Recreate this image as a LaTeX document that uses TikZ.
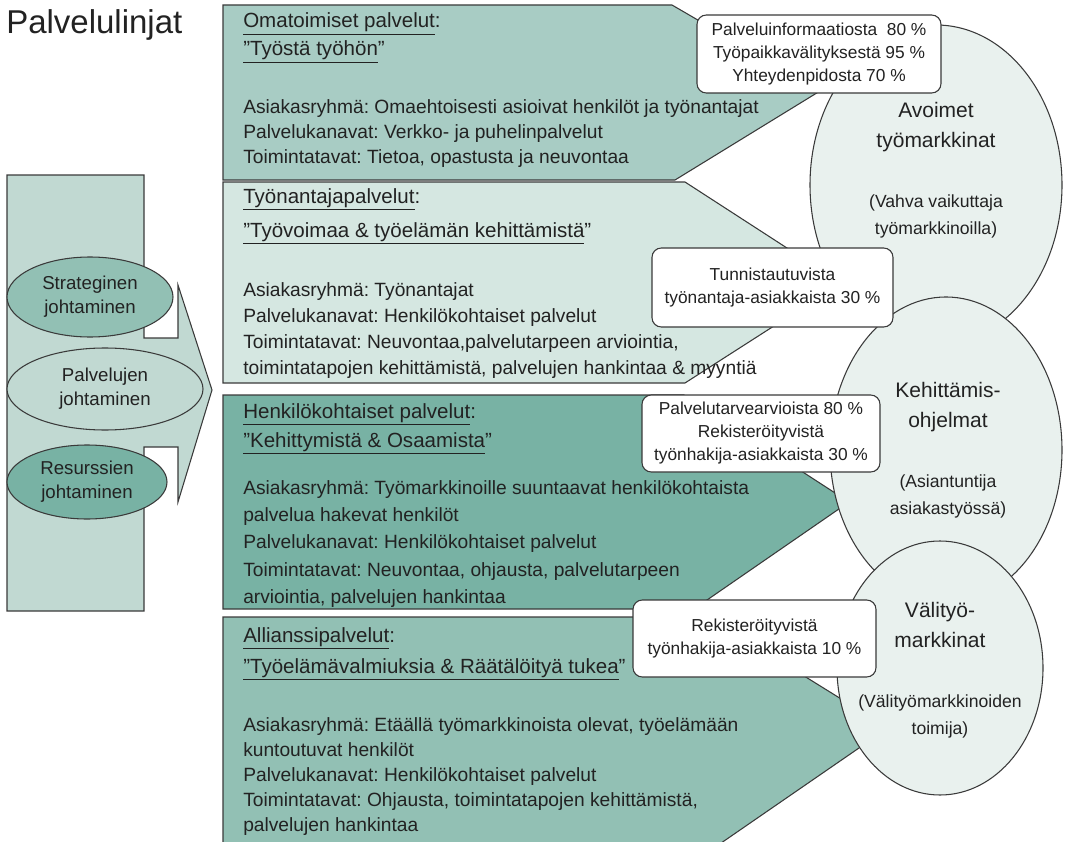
\documentclass[tikz,border=0pt]{standalone}
\usepackage{fontspec}
\setmainfont{Liberation Sans}
\usetikzlibrary{shapes.geometric}
\definecolor{leftfill}{HTML}{C1D9D2}
\definecolor{midfill}{HTML}{92C0B4}
\definecolor{darkfill}{HTML}{78B2A4}
\definecolor{bandone}{HTML}{A8CCC4}
\definecolor{bandtwo}{HTML}{D5E7E1}
\definecolor{ovalfill}{HTML}{E9F1EE}
\definecolor{edge}{HTML}{3A3A3A}
\definecolor{ink}{HTML}{222222}
\frenchspacing
\begin{document}
\begin{tikzpicture}[x=0.75pt,y=-0.75pt,
  outline/.style={draw=edge, line width=0.8pt},
  bodytext/.style={anchor=base west, inner sep=0pt, text=ink, font=\fontsize{14.4}{17}\selectfont},
  headtext/.style={anchor=base west, inner sep=0pt, text=ink, font=\fontsize{15.4}{18}\selectfont},
  callout/.style={outline, fill=white, rounded corners=7pt, align=center, inner sep=0pt, text=ink, font=\fontsize{13}{17.25}\selectfont},
  leftoval/.style={ellipse, outline, align=center, inner sep=0pt, text=ink, font=\fontsize{14}{18}\selectfont},
  rightoval/.style={ellipse, outline, fill=ovalfill, inner sep=0pt},
  ovaltitle/.style={align=center, inner sep=0pt, text=ink, font=\fontsize{15.75}{22.5}\selectfont},
  ovalnote/.style={align=center, inner sep=0pt, text=ink, font=\fontsize{13.2}{20.25}\selectfont}
]
\useasboundingbox (0,0) rectangle (1065,842);
\clip (0,0) rectangle (1065,842);

% title
\node[anchor=base west, inner sep=0pt, text=ink, font=\fontsize{24.75}{28}\selectfont] (title) at (6,34) {Palvelulinjat};

% left arrow
\draw[outline, fill=leftfill] (7,175) -- (144,175) -- (144,338) -- (178,338) -- (178,285) -- (212,390) -- (178,502) -- (178,447) -- (144,447) -- (144,611) -- (7,611) -- cycle;
\node[leftoval, fill=midfill, minimum width={166*0.75pt}, minimum height={80*0.75pt}] (strat) at (90,297) {Strateginen\\johtaminen};
\node[leftoval, fill=leftfill, minimum width={196*0.75pt}, minimum height={82*0.75pt}] (palv) at (105,389) {Palvelujen\\johtaminen};
\node[leftoval, fill=darkfill, minimum width={160*0.75pt}, minimum height={74*0.75pt}] (resu) at (87,482) {Resurssien\\johtaminen};

% bands
\draw[outline, fill=bandone] (223,5) -- (672,5) -- (820,91) -- (675,180) -- (223,180) -- cycle;
\draw[outline, fill=bandtwo] (223,182) -- (685,182) -- (841,283) -- (685,383) -- (223,383) -- cycle;
\draw[outline, fill=darkfill] (223,395) -- (684,395) -- (849,502) -- (694,609) -- (223,609) -- cycle;
\draw[outline, fill=midfill] (223,617) -- (709,617) -- (888,728) -- (711,850) -- (223,850) -- cycle;

% band 1 text
\node[headtext] (h1a) at (243,28) {\underline{Omatoimiset palvelut}:};
\node[headtext] (h1b) at (243,56) {\underline{”Työstä työhön}”};
\node[bodytext] (b1a) at (243,114) {Asiakasryhmä: Omaehtoisesti asioivat henkilöt ja työnantajat};
\node[bodytext] (b1b) at (243,139) {Palvelukanavat: Verkko- ja puhelinpalvelut};
\node[bodytext] (b1c) at (243,164) {Toimintatavat: Tietoa, opastusta ja neuvontaa};

% band 2 text
\node[headtext] (h2a) at (243,203) {\underline{Työnantajapalvelut}:};
\node[headtext] (h2b) at (243,237) {\underline{”Työvoimaa \& työelämän kehittämistä}”};
\node[bodytext] (b2a) at (243,296) {Asiakasryhmä: Työnantajat};
\node[bodytext] (b2b) at (243,322) {Palvelukanavat: Henkilökohtaiset palvelut};
\node[bodytext] (b2c) at (243,348) {Toimintatavat: Neuvontaa,palvelutarpeen arviointia,};
\node[bodytext] (b2d) at (243,374) {toimintatapojen kehittämistä, palvelujen hankintaa \& myyntiä};

% band 3 text
\node[headtext] (h3a) at (243,418) {\underline{Henkilökohtaiset palvelut}:};
\node[headtext] (h3b) at (243,447) {\underline{”Kehittymistä \& Osaamista}”};
\node[bodytext] (b3a) at (243,494) {Asiakasryhmä: Työmarkkinoille suuntaavat henkilökohtaista};
\node[bodytext] (b3b) at (243,521) {palvelua hakevat henkilöt};
\node[bodytext] (b3c) at (243,548) {Palvelukanavat: Henkilökohtaiset palvelut};
\node[bodytext] (b3d) at (243,576) {Toimintatavat: Neuvontaa, ohjausta, palvelutarpeen};
\node[bodytext] (b3e) at (243,603) {arviointia, palvelujen hankintaa};

% band 4 text
\node[headtext] (h4a) at (243,642) {\underline{Allianssipalvelut}:};
\node[headtext] (h4b) at (243,673) {\underline{”Työelämävalmiuksia \& Räätälöityä tukea}”};
\node[bodytext] (b4a) at (243,731) {Asiakasryhmä: Etäällä työmarkkinoista olevat, työelämään};
\node[bodytext] (b4b) at (243,756) {kuntoutuvat henkilöt};
\node[bodytext] (b4c) at (243,781) {Palvelukanavat: Henkilökohtaiset palvelut};
\node[bodytext] (b4d) at (243,806) {Toimintatavat: Ohjausta, toimintatapojen kehittämistä,};
\node[bodytext] (b4e) at (243,831) {palvelujen hankintaa};

% right ovals
\node[rightoval, minimum width={252*0.75pt}, minimum height={320*0.75pt}] (avoimet) at (936,185) {};
\node[rightoval, minimum width={232*0.75pt}, minimum height={306*0.75pt}] (kehit) at (946,450) {};
\node[rightoval, minimum width={206*0.75pt}, minimum height={254*0.75pt}] (vali) at (940,668) {};

\node[ovaltitle] (avt) at (936,127) {Avoimet\\työmarkkinat};
\node[ovalnote] (avn) at (936,216.5) {(Vahva vaikuttaja\\työmarkkinoilla)};
\node[ovaltitle] (ket) at (948,407) {Kehittämis-\\ohjelmat};
\node[ovalnote] (ken) at (948,496.5) {(Asiantuntija\\asiakastyössä)};
\node[ovaltitle] (vat) at (940,625) {Välityö-\\markkinat};
\node[ovalnote] (van) at (940,716) {(Välityömarkkinoiden\\toimija)};

% callouts
\node[callout, minimum width={244*0.75pt}, minimum height={78*0.75pt}] (c1) at (819,54) {Palveluinformaatiosta\ \ 80 \%\\Työpaikkavälityksestä 95 \%\\Yhteydenpidosta 70 \%};
\node[callout, minimum width={241*0.75pt}, minimum height={79*0.75pt}] (c2) at (772.5,287.5) {Tunnistautuvista\\työnantaja-asiakkaista 30 \%};
\node[callout, minimum width={238*0.75pt}, minimum height={77*0.75pt}] (c3) at (761,433.5) {Palvelutarvearvioista 80 \%\\Rekisteröityvistä\\työnhakija-asiakkaista 30 \%};
\node[callout, minimum width={243*0.75pt}, minimum height={77*0.75pt}] (c4) at (754.5,638.5) {Rekisteröityvistä\\työnhakija-asiakkaista 10 \%};
\end{tikzpicture}
\end{document}
